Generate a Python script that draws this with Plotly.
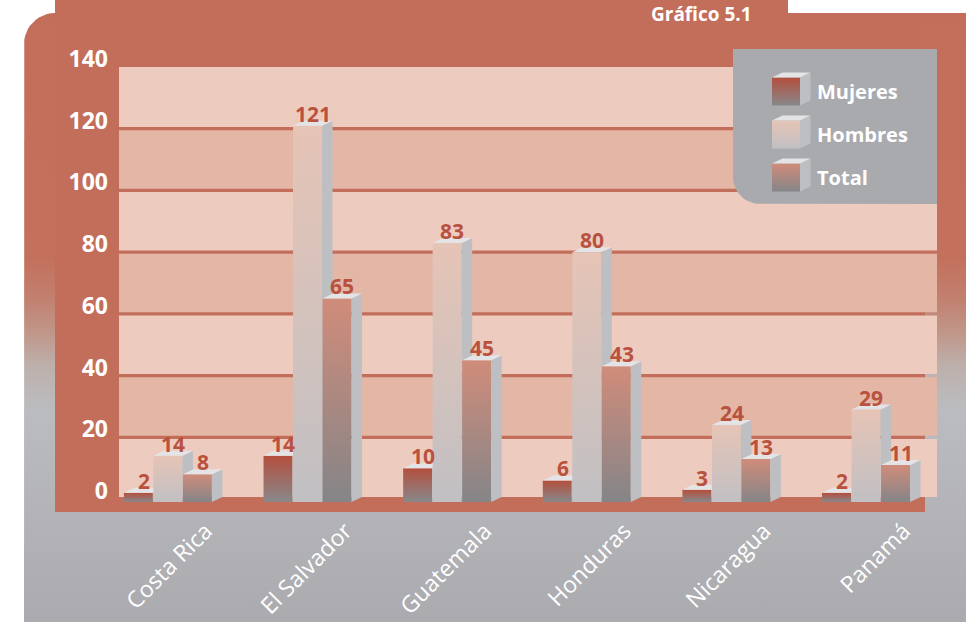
import math
import plotly.graph_objects as go

# ---------------- data ----------------
categories = ["Costa Rica", "El Salvador", "Guatemala", "Honduras", "Nicaragua", "Panamá"]
mujeres = [2, 14, 10, 6, 3, 2]
hombres = [14, 121, 83, 80, 24, 29]
total = [8, 65, 45, 43, 13, 11]
series_names = ["Mujeres", "Hombres", "Total"]
y_ticks = [0, 20, 40, 60, 80, 100, 120, 140]
title_text = "Gráfico 5.1"

# ---------------- style / geometry ----------------
W, H = 973, 622
TERRA = "#C36E5A"
LABEL_RED = "#B9513F"
BAND_LIGHT = "#EDCCBF"
BAND_DARK = "#E3B6A6"
SIDE = "#BEBFC3"
TOPF = "#E4E4E6"
front_scales = {
    "Mujeres": [[0, "#88888B"], [1, "#B44F3D"]],
    "Hombres": [[0, "#C1C0C3"], [1, "#E6C4B6"]],
    "Total": [[0, "#858588"], [1, "#D08C7A"]],
}
FONT = "Open Sans"

PX_L, PX_R = 119, 937
PY_TOP, PY_BOT = 67, 512
Y0_PX = 499
ppu_y = (Y0_PX - PY_TOP) / 140.0
y_min = -(PY_BOT - Y0_PX) / ppu_y
X0_PX = 167.9
ppu_x = 139.63
x_min = (PX_L - X0_PX) / ppu_x
x_max = (PX_R - X0_PX) / ppu_x

bar_step = 29.5 / ppu_x
half_w = 14.5 / ppu_x
dx = 10.5 / ppu_x
dy = 5.0 / ppu_y
base = -(502 - Y0_PX) / ppu_y

fig = go.Figure()


def py(v):  # pixel y -> subplot-1/3 coords (up positive)
    return H - v


def poly(xs, ys, axis, color=None, grad=None):
    kw = dict(x=xs + [xs[0]], y=ys + [ys[0]], mode="lines", fill="toself",
              line=dict(width=0, color="rgba(0,0,0,0)"), hoverinfo="skip",
              showlegend=False, xaxis="x" + axis, yaxis="y" + axis)
    if grad is not None:
        kw["fillgradient"] = grad
    else:
        kw["fillcolor"] = color
    fig.add_trace(go.Scatter(**kw))


def arc(cx, cy, r, a0, a1, n=12):
    pts = []
    for i in range(n + 1):
        a = math.radians(a0 + (a1 - a0) * i / n)
        pts.append((cx + r * math.cos(a), cy + r * math.sin(a)))
    return pts

# ---------- subplot 1 : background (pixel coords) ----------
R = 31
outer = [(24, 622), (24, 13 + R)]
outer += arc(24 + R, 13 + R, R, 180, 270)
outer += [(966, 13), (966, 622)]
poly([p[0] for p in outer], [py(p[1]) for p in outer], "",
     grad=dict(type="vertical", start=0, stop=609,
               colorscale=[[0, "#ABABAF"], [0.348, "#BBBCC0"], [0.42, "#BDB0AC"],
                           [0.47, "#C0998C"], [0.53, "#C2806F"], [0.6, "#C3705C"],
                           [1, TERRA]]))
inner = [(55, 0), (788, 0), (788, 13), (925, 13), (925, 512), (55, 512)]
poly([p[0] for p in inner], [py(p[1]) for p in inner], "", color=TERRA)

# ---------- subplot 2 : data ----------
g = 1.65 / ppu_y
for i in range(7):
    lo = 20 * i + g if i > 0 else (Y0_PX - 497) / ppu_y
    hi = 20 * i + 20 - g if i < 6 else 140
    poly([x_min, x_max, x_max, x_min], [lo, lo, hi, hi], "2",
         color=BAND_LIGHT if i % 2 == 0 else BAND_DARK)

series_vals = [mujeres, hombres, total]
for k, (name, vals) in enumerate(zip(series_names, series_vals)):
    for i, v in enumerate(vals):
        cx = i + (k - 1) * bar_step
        xl, xr = cx - half_w, cx + half_w
        poly([xl, xr, xr, xl], [base, base, v, v], "2",
             grad=dict(type="vertical", start=base, stop=v,
                       colorscale=front_scales[name]))
        poly([xr, xr + dx, xr + dx, xr], [base, base + dy, v + dy, v], "2", color=SIDE)
        poly([xl, xr, xr + dx, xl + dx], [v, v, v + dy, v + dy], "2", color=TOPF)
        fig.add_annotation(x=cx + dx / 2, y=v, xref="x2", yref="y2", text=str(v),
                           showarrow=False, yanchor="bottom", xanchor="center", yshift=-4,
                           font=dict(family=FONT, size=21, color=LABEL_RED, weight=700))

# ---------- subplot 3 : legend (pixel coords) ----------
LR = 27
box = [(733, 49), (937, 49), (937, 204), (733 + LR, 204)]
box += arc(733 + LR, 204 - LR, LR, 90, 180)
box += [(733, 49)]
poly([p[0] for p in box], [py(p[1]) for p in box], "3", color="#A9AAAE")
leg_tops = [77.5, 120.5, 163.5]
for name, t in zip(series_names, leg_tops):
    b = t + 28
    xl, xr = 772, 800
    poly([xl, xr, xr, xl], [py(b), py(b), py(t), py(t)], "3",
         grad=dict(type="vertical", start=py(b), stop=py(t), colorscale=front_scales[name]))
    poly([xr, xr + 10.5, xr + 10.5, xr], [py(b), py(b - 5), py(t - 5), py(t)], "3", color=SIDE)
    poly([xl, xr, xr + 10.5, xl + 10.5], [py(t), py(t), py(t - 5), py(t - 5)], "3", color=TOPF)
    fig.add_annotation(x=815, y=py((t + b) / 2), xref="x3", yref="y3", text=name,
                       showarrow=False, xanchor="left", yanchor="middle",
                       font=dict(family=FONT, size=20, color="white", weight=700))

fig.add_annotation(x=753, y=py(0), xref="x", yref="y", text=title_text, showarrow=False,
                   xanchor="right", yanchor="top", borderpad=0,
                   font=dict(family=FONT, size=19, color="white", weight=700))

hidden = dict(visible=False, showgrid=False, zeroline=False, fixedrange=True)
fig.update_layout(
    width=W, height=H, autosize=False,
    margin=dict(l=0, r=0, t=0, b=0, pad=0, autoexpand=False),
    paper_bgcolor="white", plot_bgcolor="rgba(0,0,0,0)",
    showlegend=False, hovermode=False,
    xaxis=dict(domain=[0, 1], range=[0, W], anchor="y", **hidden),
    yaxis=dict(domain=[0, 1], range=[0, H], anchor="x", **hidden),
    xaxis3=dict(domain=[0, 1], range=[0, W], anchor="y3", **hidden),
    yaxis3=dict(domain=[0, 1], range=[0, H], anchor="x3", **hidden),
    xaxis2=dict(domain=[PX_L / W, PX_R / W], range=[x_min, x_max], anchor="y2",
                tickvals=[i + 0.27 for i in range(len(categories))], ticktext=categories,
                tickangle=-45, showgrid=False, zeroline=False, showline=False, ticks="",
                automargin=False,
                tickfont=dict(family=FONT, size=23, color="white"), fixedrange=True),
    yaxis2=dict(domain=[1 - PY_BOT / H, 1 - PY_TOP / H], range=[y_min, 140], anchor="x2",
                tickvals=y_ticks, showgrid=False, zeroline=False, showline=False, ticks="",
                ticklabelshift=-8, ticklabelstandoff=10, automargin=False,
                tickfont=dict(family=FONT, size=23, color="white", weight=700), fixedrange=True),
)

fig.write_html("out.html", include_plotlyjs=True, config={"displayModeBar": False},
               post_script="document.body.style.margin='0';document.body.style.overflow='hidden';")
